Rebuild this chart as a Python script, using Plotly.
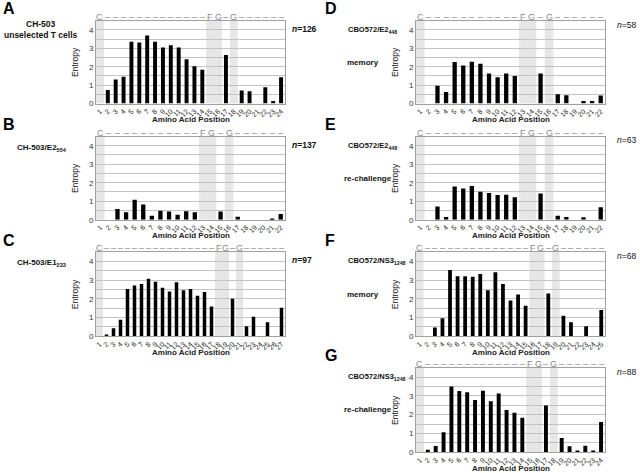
import plotly.graph_objects as go

# ---------------- data ----------------
entropy_A = [0, 0.74, 1.3, 1.46, 3.36, 3.32, 3.7, 3.36, 3.04, 3.17, 3.04, 2.41, 2.03, 1.84, 0, 0, 2.64, 0, 0.7, 0.66, 0, 0.88, 0.13, 1.43]
entropy_B = [0, 0, 0.58, 0.4, 1.08, 0.82, 0.22, 0.49, 0.45, 0.27, 0.46, 0.4, 0, 0, 0.45, 0, 0.16, 0, 0, 0, 0.05, 0.31]
entropy_C = [0, 0.09, 0.43, 0.89, 2.52, 2.71, 2.79, 3.07, 2.91, 2.59, 2.39, 2.88, 2.46, 2.52, 2.16, 2.36, 1.59, 0, 0, 2.0, 0, 0.54, 1.05, 0, 0.75, 0, 1.52]
entropy_D = [0, 0, 0.96, 0.63, 2.25, 2.07, 2.27, 2.16, 1.63, 1.43, 1.63, 1.5, 0, 0, 1.63, 0, 0.5, 0.45, 0, 0.14, 0.14, 0.43]
entropy_E = [0, 0, 0.72, 0.14, 1.8, 1.69, 1.82, 1.51, 1.44, 1.33, 1.35, 1.22, 0, 0, 1.42, 0, 0.22, 0.14, 0, 0.13, 0, 0.68]
entropy_F = [0, 0, 0.47, 0.96, 3.54, 3.21, 3.21, 3.18, 3.32, 2.46, 3.42, 2.79, 1.91, 2.23, 1.63, 0, 0, 2.28, 0, 1.1, 0.75, 0, 0.53, 0, 1.4]
entropy_G = [0, 0.13, 0.34, 1.06, 3.49, 3.26, 3.19, 2.78, 3.27, 2.71, 3.13, 2.25, 2.1, 1.84, 0, 0, 2.48, 0, 0.76, 0.32, 0.1, 0.35, 0.09, 1.61]

motif_A = "C-------------FG-G------"
motif_B = "C-----------FG-G------"
motif_C = "C----------------FG-G------"
motif_D = "C-----------FG-G------"
motif_E = "C-----------FG-G------"
motif_F = "C--------------FG-G------"
motif_G = "C-------------FG-G------"

panel_letters = ["A", "B", "C", "D", "E", "F", "G"]
panel_n = [126, 137, 97, 58, 63, 68, 88]
panel_title1 = ["CH-503", "CH-503/E2<sub>554</sub>", "CH-503/E1<sub>233</sub>",
                "CBO572/E2<sub>448</sub>", "CBO572/E2<sub>448</sub>",
                "CBO572/NS3<sub>1248</sub>", "CBO572/NS3<sub>1248</sub>"]
panel_title2 = ["unselected T cells", "", "", "memory", "re-challenge", "memory", "re-challenge"]

entropies = [entropy_A, entropy_B, entropy_C, entropy_D, entropy_E, entropy_F, entropy_G]
motifs = [motif_A, motif_B, motif_C, motif_D, motif_E, motif_F, motif_G]

# ---------------- layout geometry (px) ----------------
W, H = 640, 473
FONT = "Arial, 'Liberation Sans', sans-serif"
col_x = [(96, 285), (416, 605)]
row_y = [(20.7, 103.5), (136.5, 219.7), (252, 336.3), (367.6, 452.3)]
cells = [(0, 0), (0, 1), (0, 2), (1, 0), (1, 1), (1, 2), (1, 3)]
YMAX = 4.5


def px(x):
    return x / W


def py(y):
    return 1 - y / H


fig = go.Figure()
layout = dict(width=W, height=H, margin=dict(l=0, r=0, t=0, b=0, autoexpand=False),
              paper_bgcolor="white", plot_bgcolor="white", showlegend=False,
              font=dict(family=FONT, color="#222"))
shapes = []
annotations = []

for i in range(7):
    k = i + 1
    sx = "" if k == 1 else str(k)
    col, row = cells[i]
    x0, x1 = col_x[col]
    top, bot = row_y[row]
    ent = entropies[i]
    motif = motifs[i]
    n = len(ent)
    pos = list(range(1, n + 1))

    fig.add_trace(go.Bar(x=pos, y=ent, marker=dict(color="black", line=dict(width=0)),
                         width=0.5, xaxis="x" + sx, yaxis="y" + sx))

    layout["xaxis" + sx] = dict(domain=[px(x0), px(x1)], anchor="y" + sx,
                                range=[0.5, n + 0.5], tickvals=pos,
                                ticktext=[str(p) for p in pos], tickangle=-45,
                                tickfont=dict(size=7, color="#222"),
                                showgrid=False, zeroline=False, showline=True,
                                mirror=True, linecolor="#a0a0a0", linewidth=1,
                                ticks="", fixedrange=True, automargin=False)
    layout["yaxis" + sx] = dict(domain=[py(bot), py(top)], anchor="x" + sx,
                                range=[0, YMAX], tickvals=[0, 1, 2, 3, 4],
                                tickfont=dict(size=8, color="#333"),
                                showgrid=True, gridcolor="#c4c4c4", gridwidth=1,
                                minor=dict(dtick=0.5, showgrid=True, gridcolor="#c4c4c4"),
                                zeroline=False, showline=True, mirror=True,
                                linecolor="#a0a0a0", linewidth=1, ticks="",
                                fixedrange=True, automargin=False)

    # motif row above the plot and shaded motif columns
    for p, ch in zip(pos, motif):
        annotations.append(dict(text=("–" if ch == "-" else ch), x=p, y=YMAX,
                                xref="x" + sx, yref="y" + sx,
                                yanchor="bottom", yshift=-3, showarrow=False,
                                font=dict(size=9, color="#888888")))
        if ch != "-":
            shapes.append(dict(type="rect", xref="x" + sx, yref="y" + sx + " domain",
                               x0=p - 0.5, x1=p + 0.5, y0=0, y1=1,
                               fillcolor="#e6e6e6", line=dict(width=0), layer="below"))

    cx = (x0 + x1) / 2
    # axis titles
    annotations.append(dict(text="<b>Amino Acid Position</b>", x=px(cx), y=py(bot + 16),
                            xref="paper", yref="paper", showarrow=False,
                            xanchor="center", yanchor="middle",
                            font=dict(size=8, color="#222")))
    annotations.append(dict(text="Entropy", x=px(x0 - 21), y=py((top + bot) / 2),
                            xref="paper", yref="paper", showarrow=False, textangle=-90,
                            xanchor="center", yanchor="middle",
                            font=dict(size=8.5, color="#222")))
    # panel letter
    annotations.append(dict(text="<b>%s</b>" % panel_letters[i], x=px(1 + col * 322),
                            y=py(top - 12), xref="paper", yref="paper", showarrow=False,
                            xanchor="left", yanchor="middle",
                            font=dict(size=16, color="black")))
    # n label
    if col == 0:
        ntxt = "<b><i>n</i>=%d</b>" % panel_n[i]
        annotations.append(dict(text=ntxt, x=px(290), y=py(top + 8), xref="paper",
                                yref="paper", showarrow=False, xanchor="left",
                                yanchor="middle", font=dict(size=8.5, color="#111")))
    else:
        ntxt = "<i>n</i>=%d" % panel_n[i]
        annotations.append(dict(text=ntxt, x=px(615), y=py(top + 4), xref="paper",
                                yref="paper", showarrow=False, xanchor="left",
                                yanchor="middle", font=dict(size=8.5, color="#111")))
    # sample labels
    if i == 0:
        annotations.append(dict(text="<b>" + panel_title1[i] + "</b>", x=px(41), y=py(24),
                                xref="paper", yref="paper", showarrow=False,
                                xanchor="center", yanchor="middle",
                                font=dict(size=8.5, color="#111")))
        annotations.append(dict(text="<b>" + panel_title2[i] + "</b>", x=px(40), y=py(35),
                                xref="paper", yref="paper", showarrow=False,
                                xanchor="center", yanchor="middle",
                                font=dict(size=8.5, color="#111")))
    elif col == 0:
        annotations.append(dict(text="<b>" + panel_title1[i] + "</b>", x=px(15), y=py(top + 11),
                                xref="paper", yref="paper", showarrow=False, xanchor="left",
                                yanchor="middle", font=dict(size=8, color="#111")))
    else:
        annotations.append(dict(text="<b>" + panel_title1[i] + "</b>", x=px(346), y=py(top + 9),
                                xref="paper", yref="paper", showarrow=False, xanchor="left",
                                yanchor="middle", font=dict(size=7.5, color="#111")))
        x2 = 345 if panel_title2[i] == "memory" else 342
        annotations.append(dict(text="<b>" + panel_title2[i] + "</b>", x=px(x2), y=py(top + 42),
                                xref="paper", yref="paper", showarrow=False, xanchor="left",
                                yanchor="middle", font=dict(size=8, color="#111")))

layout["shapes"] = shapes
layout["annotations"] = annotations
fig.update_layout(**layout)
fig.write_html("out.html", config={"displayModeBar": False},
               post_script="document.body.style.margin='0';document.body.style.overflow='hidden';")
